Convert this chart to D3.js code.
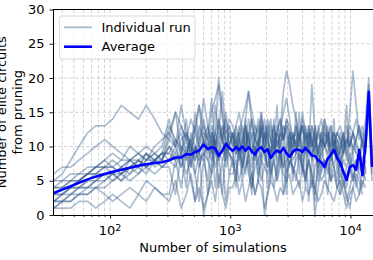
<!DOCTYPE html>
<html><head><meta charset="utf-8">
<script src="https://cdn.jsdelivr.net/npm/d3@7"></script>
<style>body{margin:0;background:#fff}svg{display:block;font-family:"DejaVu Sans",sans-serif}</style>
</head><body><svg id="c" width="373" height="260"></svg>
<script>
// ---- data ----
const xValues = [34,40,47,55,65,76,90,105,124,146,172,200,235,270,
  310,350,390,430,470,510,550,600,650,700,750,800,860,920,980,
  1050,1115,1185,1260,1340,1420,1510,1605,1705,1810,1925,2045,2170,2305,2450,2605,2765,2940,3120,3315,
  3525,3745,3980,4225,4490,4770,5070,5385,5720,6080,6460,6860,7290,7745,8230,8745,9290,9870,10490,11145,
  11840,12580,13365,14200,15090];

const run1 = [5,6,8,10,12,13,13,14,16,15,14,16,14,12, 11,15,9,14,8,13,16,10,12,17,9,14,11,15,10,
  12,10,13,11,9,12,14,11,10,12,13,11,9,10,12,11,13,12,10,9,11,12,10,13,11,9,10,12,11,10,9,11,12,10,8,9,11,10,12,9,8,10,11];
const run2 = [2,3,4,5,6,7,8,9,8,10,9,8,10,11, 12,15,13,11,14,12,16,13,11,15,17,19,14,12,13,
  11,13,15,12,10,14,11,13,12,15,11,12,14,10,13,12,18,21,19,16,14,12,13,11,12,10,13,11,12,14,12,10,11,9,12,10,11,13,12,10,9,11];
const run3 = [1,1,1,2,2,1,2,3,2,1,3,2,4,3, 2,5,1,3,6,2,4,1,3,5,2,6,3,1,4,
  4,6,3,5,2,4,6,3,5,4,1,3,5,4,2,4,3,5,6,3,4,5,2,4,3,5,4,2,3,5,4,3,2,4,5,3,1,3,4,2,3,5,4];
const run4 = [3,3,4,4,5,6,6,5,6,7,8,7,8,9, 9,11,10,8,12,10,9,11,13,10,12,14,11,9,12,
  10,12,9,11,14,18,13,11,10,12,14,11,9,13,10,12,11,14,12,10,13,11,15,12,10,13,11,9,12,10,11,13,10,12,11,9,13,10,12,14,11,13,10,15,5];
const run5 = [4,5,5,6,6,7,7,8,7,8,8,9,7,8, 10,8,9,11,7,10,9,8,11,9,12,20,15,10,9,
  8,11,9,7,10,12,8,9,11,8,10,7,9,11,8,10,12,9,7,10,11,8,9,12,10,8,11,7,9,10,12,8,10,9,7,11,9,15,21,16,12,11,9,19,8];
const run6 = [2,2,3,3,4,4,5,6,5,6,7,6,8,7, 8,7,9,6,8,10,7,9,8,6,9,8,10,7,9,
  8,4,11,6,13,7,3,10,5,9,12,4,8,14,6,11,3,7,12,5,9,15,6,10,2,8,13,5,11,7,3,9,14,6,10,4,7];
const run7 = [6,7,7,8,9,10,11,10,9,8,7,9,8,9, 13,11,9,12,10,8,11,13,9,12,10,13,11,14,10,
  12,9,11,13,10,12,9,11,14,12,10,13,11,9,12,14,11,13,10,12,9,11,13,10,12,11,9,13,10,12,11,9,10,12,13,11,10,12,9,11,13,10,14,20,9];
const run8 = [1,2,2,3,3,4,4,5,6,5,6,7,6,7, 7,3,9,4,11,6,2,8,5,12,4,9,3,10,6,
  8,6,9,5,7,8,6,3,5,8,7,9,6,8,5,7,9,6,8,7,5,9,7,6,8,4,7,9,6,8,7,5,6,4,3,5,2,4,6,5,3,7,5];
const run9 = [3,3,4,4,4,5,5,6,6,7,7,8,8,8, 10,9,11,12,10,9,13,11,10,12,9,11,13,10,12,
  10,13,11,9,12,10,14,11,13,10,12,9,11,13,10,12,15,17,14,11,12,10,13,11,9,19,12,10,11,13,10,12,9,11,10,12,8,11,10,9];
const run10 = [2,3,3,4,5,5,6,6,7,8,7,9,8,9, 8,10,7,9,11,8,10,0,3,8,10,9,11,8,10,
  9,11,8,10,7,9,11,8,10,12,9,7,10,8,11,9,7,10,12,8,9,11,7,10,8,12,9,7,10,11,8,9,7,10,6,8,7,9,5,8,7,6,8];
const run11 = [4,4,5,5,6,6,7,7,6,7,8,7,8,9, 9,8,10,9,7,10,8,9,10,8,11,9,8,10,9,
  7,9,10,8,6,9,7,10,8,9,0,3,6,8,5,9,7,8,10,6,8,9,7,5,8,6,0,4,7,8,6,9,7,5,8,6,4,7,5,8,6,4,7];
const run12 = [5,5,6,6,7,7,8,7,8,8,9,10,9,10, 14,10,16,12,9,15,11,17,13,10,16,12,18,11,14,
  13,11,12,14,16,18,15,13,11,14,12,10,13,11,12,14,11,13,12,10,13,11,14,12,10,13,11,12,14,11,13,10,12,11,9,12];
const run13 = [1,2,2,3,3,4,3,2,3,4,3,5,4,3, 3,8,4,9,5,2,7,10,3,6,11,4,8,2,6,
  6,8,5,7,9,6,4,7,8,5,7,6,8,4,7,9,6,5,8,7,6,4,7,5,8,6,3,7,5,6,8,5,7,4,6,5,3,1,4,6,5,3];
const run14 = [3,4,4,5,6,7,7,6,5,7,6,8,9,8, 12,10,13,11,9,12,10,14,11,13,10,12,11,9,13,
  11,9,12,10,13,11,9,12,10,13,11,14,12,10,9,12,11,14,13,11,10,12,9,11,13,10,12,9,11,10,12,9,11,8,10,12,9,7,10,11,9,8,10];
const run15 = [2,2,3,4,4,5,6,6,7,6,8,7,8,7, 8,9,7,10,8,6,9,11,8,10,7,9,12,8,10,
  9,5,12,7,14,9,4,11,6,15,8,13,5,10,16,7,11,3,12,9,15,6,10,4,13,11,2,10,7,14,11,5,12,9,3,10,16,6,9,4,8,12,6];
const run16 = [4,4,5,5,6,6,7,7,6,8,9,8,9,8, 11,10,12,9,11,13,10,12,11,9,12,10,13,11,10,
  12,10,9,11,13,10,12,9,11,13,10,12,11,9,12,10,13,11,9,12,10,11,13,9,12,10,11,9,12,10,11,13,10,12,11,9,11,10,12,11,13,10,9,18,6];

const runs = [run1,run2,run3,run4,run5,run6,run7,run8,run9,run10,run11,run12,run13,run14,run15,run16];

const average = [3.2,3.7,4.2,4.7,5.2,5.6,6.0,6.3,6.6,6.9,7.2,7.4,7.6,7.7,
  8.0,8.4,8.4,8.9,8.8,9.2,9.4,10.3,9.6,9.9,9.7,8.6,9.4,10.4,9.8,
  9.4,9.9,9.5,10.0,9.4,9.9,9.3,8.8,9.6,9.9,9.2,9.6,8.3,9.0,9.4,9.1,9.8,9.0,8.5,9.2,9.6,9.5,9.2,9.8,9.3,
  8.7,8.6,8.0,7.7,7.0,8.2,8.8,9.5,8.3,7.6,6.3,5.1,7.0,7.3,6.6,9.5,5.8,10.5,18.0,7.0];

const yTicks = [0,5,10,15,20,25,30];
const xMajorTicks = [100,1000,10000];
const xMajorExp = ["2","3","4"];
const xMinorTicks = [40,50,60,70,80,90,200,300,400,500,600,700,800,900,2000,3000,4000,5000,6000,7000,8000,9000];
const legendLabels = ["Individual run","Average"];
const xLabel = "Number of simulations";
const yLabelLines = ["Number of elite circuits","from pruning"];

// ---- chart ----
const m = {left:53, top:9.5, right:373, bottom:215};
const svg = d3.select('#c');
const x = d3.scaleLog().domain([33.5,15400]).range([m.left,m.right]);
const y = d3.scaleLinear().domain([0,30]).range([m.bottom,m.top]);
const runColor = 'rgb(50,90,140)', runOpacity = 0.4;

svg.append('defs').append('clipPath').attr('id','clip')
  .append('rect').attr('x',m.left).attr('y',m.top).attr('width',m.right-m.left).attr('height',m.bottom-m.top);

// grid
const grid = svg.append('g').attr('stroke','#c8c8c8').attr('stroke-width',0.8).attr('stroke-dasharray','3.5,2');
grid.selectAll('line.gx').data(xMajorTicks.concat(xMinorTicks)).join('line')
  .attr('x1',d=>x(d)).attr('x2',d=>x(d)).attr('y1',m.top).attr('y2',m.bottom);
grid.selectAll('line.gy').data(yTicks.filter(d=>d>0&&d<30)).join('line')
  .attr('x1',m.left).attr('x2',m.right).attr('y1',d=>y(d)).attr('y2',d=>y(d));

// runs
const line = d3.line().x((d,i)=>x(xValues[i])).y(d=>y(d));
const plot = svg.append('g').attr('clip-path','url(#clip)');
plot.selectAll('path.run').data(runs).join('path').attr('class','run')
  .attr('d',d=>line(d)).attr('fill','none').attr('stroke',runColor).attr('stroke-opacity',runOpacity)
  .attr('stroke-width',1.7).attr('stroke-linejoin','round');
plot.append('path').attr('d',line(average)).attr('fill','none').attr('stroke','#0000ff')
  .attr('stroke-width',2.6).attr('stroke-linejoin','round');

// axes
const fs = 13;
const yAxis = svg.append('g').attr('transform',`translate(${m.left},0)`)
  .call(d3.axisLeft(y).tickValues(yTicks).tickSize(3.5).tickSizeOuter(0).tickPadding(5));
yAxis.selectAll('text').attr('font-size',fs).attr('font-family','DejaVu Sans').attr('fill','#000');
yAxis.select('.domain').attr('stroke','#000').attr('stroke-width',1);
yAxis.selectAll('.tick line').attr('stroke','#000').attr('stroke-width',0.9);

const xAxis = svg.append('g').attr('transform',`translate(0,${m.bottom})`)
  .call(d3.axisBottom(x).tickValues(xMajorTicks).tickSize(3.5).tickSizeOuter(0).tickFormat(()=>''));
xAxis.select('.domain').attr('stroke','#000').attr('stroke-width',1);
xAxis.selectAll('.tick line').attr('stroke','#000').attr('stroke-width',0.9);
xAxis.selectAll('.tick text').remove();
const xMinor = svg.append('g').attr('transform',`translate(0,${m.bottom})`)
  .call(d3.axisBottom(x).tickValues(xMinorTicks).tickSize(2).tickSizeOuter(0).tickFormat(()=>''));
xMinor.select('.domain').remove();
xMinor.selectAll('.tick line').attr('stroke','#000').attr('stroke-width',0.7);
xMinor.selectAll('.tick text').remove();

const xl = svg.append('g').selectAll('text').data(xMajorTicks).join('text')
  .attr('x',d=>x(d)).attr('y',235).attr('text-anchor','middle').attr('font-size',fs).attr('fill','#000');
xl.append('tspan').text('10');
xl.append('tspan').attr('font-size',9.5).attr('dy',-4.5).text((d,i)=>xMajorExp[i]);

// top spine
svg.append('line').attr('x1',m.left).attr('x2',m.right).attr('y1',m.top).attr('y2',m.top)
  .attr('stroke','#000').attr('stroke-width',1);

// labels
svg.append('text').attr('x',(m.left+m.right)/2).attr('y',252).attr('text-anchor','middle')
  .attr('font-size',fs).text(xLabel);
const cy = (m.top+m.bottom)/2;
svg.selectAll('text.yl').data(yLabelLines).join('text').attr('class','yl')
  .attr('transform',(d,i)=>`translate(${i===0?6:21.5},${cy}) rotate(-90)`)
  .attr('text-anchor','middle').attr('font-size',fs).text(d=>d);

// legend
const lg = svg.append('g');
lg.append('rect').attr('x',59.5).attr('y',16).attr('width',135.5).attr('height',43).attr('rx',2.5)
  .attr('fill','#fff').attr('fill-opacity',0.8).attr('stroke','#d0d0d0').attr('stroke-width',0.8);
const legY = [27.3,46.7];
lg.append('line').attr('x1',64).attr('x2',92).attr('y1',legY[0]).attr('y2',legY[0])
  .attr('stroke',runColor).attr('stroke-opacity',runOpacity).attr('stroke-width',1.9);
lg.append('line').attr('x1',64).attr('x2',92).attr('y1',legY[1]).attr('y2',legY[1])
  .attr('stroke','#0000ff').attr('stroke-width',2.6);
lg.selectAll('text').data(legendLabels).join('text').attr('x',101.5).attr('y',(d,i)=>legY[i]).attr('dy','0.36em')
  .attr('font-size',fs).text(d=>d);
</script>
</body></html>
